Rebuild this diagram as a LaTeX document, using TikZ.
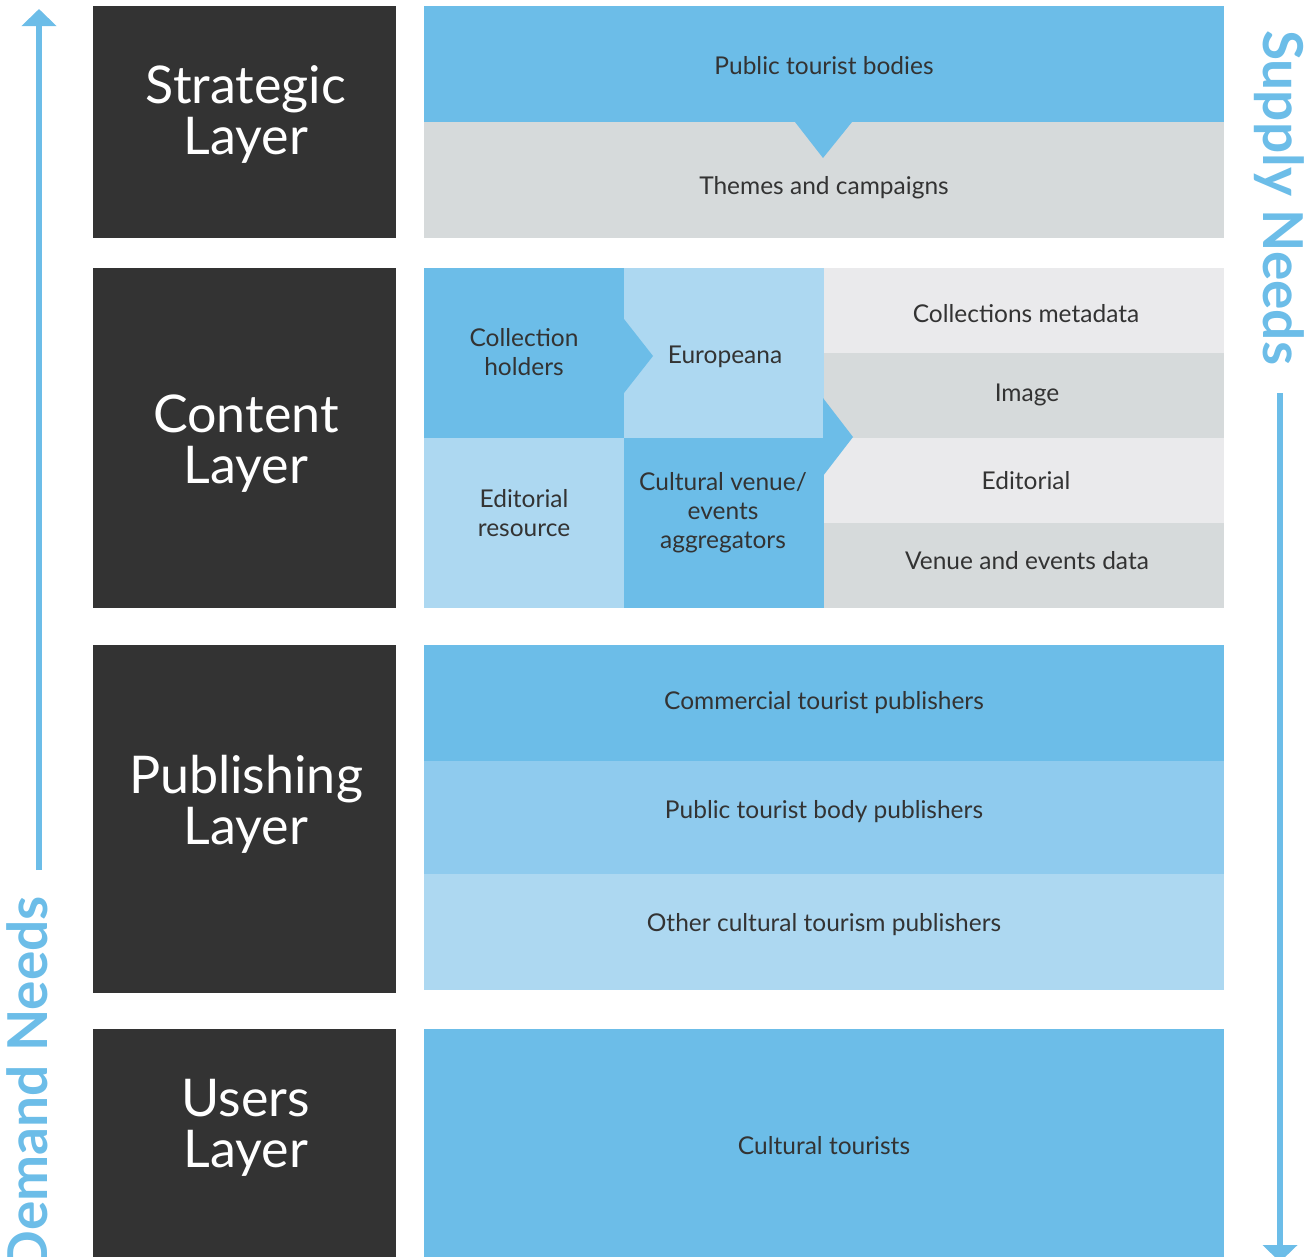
\documentclass[tikz,border=0pt]{standalone}
\usepackage{fontspec}
\setmainfont{Lato}
\usetikzlibrary{arrows.meta}
\definecolor{layergrey}{HTML}{333333}
\definecolor{blueA}{HTML}{6CBDE8}
\definecolor{blueB}{HTML}{8FCBEE}
\definecolor{blueC}{HTML}{ADD8F1}
\definecolor{greyA}{HTML}{D6DADB}
\definecolor{greyB}{HTML}{EAEAEC}

\tikzset{
	layertext/.style={text=white, align=center, inner sep=0, font=\fontsize{52}{51}\selectfont},
	celltext/.style={text=layergrey, align=center, inner sep=0, font=\fontsize{24.5}{29}\selectfont},
	needs/.style={text=blueA, inner sep=0, font=\fontsize{55}{56}\selectfont\bfseries},
	needarrow/.style={draw=blueA, line width=6pt, -{Triangle[width=34pt,length=17pt]}}
}

\begin{document}
\begin{tikzpicture}[x=1pt, y=-1pt]
			%%%%% START %%%%%
			\useasboundingbox (0, 0) rectangle (1314, 1256);
			
			% layer boxes
			\fill[layergrey] (93, 6) rectangle (396, 238);
			\fill[layergrey] (93, 268) rectangle (396, 608);
			\fill[layergrey] (93, 645) rectangle (396, 993);
			\fill[layergrey] (93, 1029) rectangle (396, 1262);
			
			\node[layertext] (strategic) at (246, 114) {Strategic\\Layer};
			\node[layertext] (content) at (246, 444) {Content\\Layer};
			\node[layertext] (publishing) at (246, 804) {Publishing\\Layer};
			\node[layertext] (users) at (246, 1128) {Users\\Layer};
			
			% strategic
			\fill[blueA] (424, 6) rectangle (1224, 122);
			\fill[greyA] (424, 122) rectangle (1224, 238);
			\fill[blueA] (795, 122) -- (852, 122) -- (823, 158) -- cycle;
			\node[celltext] (bodies) at (824, 66) {Public tourist bodies};
			\node[celltext] (themes) at (824, 188) {Themes and campaigns};
			
			% content
			\fill[blueA] (424, 268) rectangle (624, 438);
			\fill[blueC] (624, 268) rectangle (824, 438);
			\fill[blueC] (424, 438) rectangle (624, 608);
			\fill[blueA] (624, 438) rectangle (824, 608);
			\fill[greyB] (824, 268) rectangle (1224, 353);
			\fill[greyA] (824, 353) rectangle (1224, 438);
			\fill[greyB] (824, 438) rectangle (1224, 523);
			\fill[greyA] (824, 523) rectangle (1224, 608);
			\fill[blueA] (624, 319) -- (653, 356) -- (624, 393) -- cycle;
			\fill[blueA] (823, 398) -- (853, 437) -- (823, 476) -- cycle;
			\node[celltext] (holders) at (524, 352) {Collection\\holders};
			\node[celltext] (europeana) at (725, 357) {Europeana};
			\node[celltext] (resource) at (524, 513) {Editorial\\resource};
			\node[celltext] (aggregators) at (723, 513) {Cultural venue/\\events\\aggregators};
			\node[celltext] (metadata) at (1026, 314) {Collections metadata};
			\node[celltext] (image) at (1027, 395) {Image};
			\node[celltext] (editorial) at (1026, 481) {Editorial};
			\node[celltext] (venue) at (1027, 561) {Venue and events data};
			
			% publishing
			\fill[blueA] (424, 645) rectangle (1224, 761);
			\fill[blueB] (424, 761) rectangle (1224, 874);
			\fill[blueC] (424, 874) rectangle (1224, 990);
			\node[celltext] (commercial) at (824, 703) {Commercial tourist publishers};
			\node[celltext] (bodypub) at (824, 812) {Public tourist body publishers};
			\node[celltext] (otherpub) at (824, 925) {Other cultural tourism publishers};
			
			% users
			\fill[blueA] (424, 1029) rectangle (1224, 1262);
			\node[celltext] (tourists) at (824, 1146) {Cultural tourists};
			
			% needs
			\coordinate (demandfoot) at (39, 870);
			\coordinate (demandtip) at (39, 9);
			\draw[needarrow] (demandfoot) -- (demandtip);
			\node[needs, rotate=90, anchor=base east] (demand) at (47, 896) {Demand Needs};
			
			\coordinate (supplyfoot) at (1280, 393);
			\coordinate (supplytip) at (1280, 1262);
			\draw[needarrow] (supplyfoot) -- (supplytip);
			\node[needs, rotate=-90, anchor=base west] (supply) at (1263, 30) {Supply Needs};
			%%%%% END %%%%%
		\end{tikzpicture}
\end{document}
